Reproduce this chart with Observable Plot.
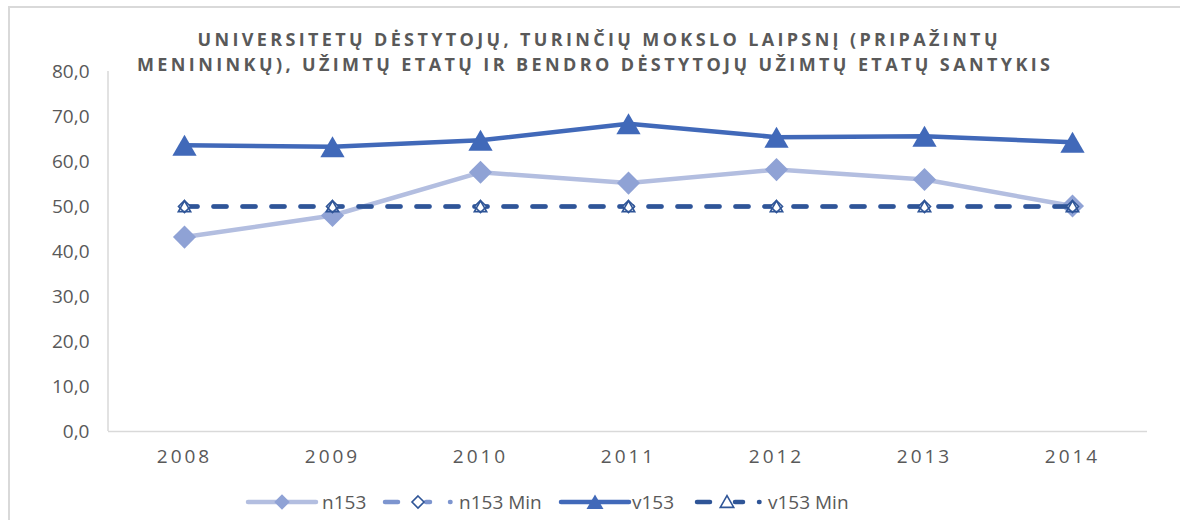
<!DOCTYPE html>
<html><head><meta charset="utf-8">
<script src="https://cdn.jsdelivr.net/npm/d3@7"></script>
<script src="https://cdn.jsdelivr.net/npm/@observablehq/plot@0.6"></script>
<style>
html,body{margin:0;padding:0;background:#fff;}
#wrap{position:relative;width:1180px;height:520px;overflow:hidden;font-family:"Open Sans",sans-serif;}
#frame{position:absolute;left:8px;top:6px;width:1200px;height:600px;border-left:2px solid #d9d9d9;border-top:2px solid #d9d9d9;}
#title{position:absolute;left:0;top:0;}
#chart{position:absolute;left:0;top:0;}
#legend{position:absolute;left:0;top:480px;}
#chart g[aria-label="x-axis tick label"] text{letter-spacing:3px}
</style></head><body>
<div id="wrap"><div id="frame"></div><div id="chart"></div><svg id="title" width="1180" height="80"></svg><svg id="legend" width="1180" height="40"></svg></div>
<script>
const years = ["2008","2009","2010","2011","2012","2013","2014"];
const n153 = [43.2, 48.0, 57.6, 55.2, 58.2, 56.0, 50.1];
const n153Min = [50, 50, 50, 50, 50, 50, 50];
const v153 = [63.6, 63.3, 64.7, 68.4, 65.4, 65.6, 64.3];
const v153Min = [50, 50, 50, 50, 50, 50, 50];
const yTicks = [0, 10, 20, 30, 40, 50, 60, 70, 80];
const titleLines = ["UNIVERSITETŲ DĖSTYTOJŲ, TURINČIŲ MOKSLO LAIPSNĮ (PRIPAŽINTŲ",
                    "MENININKŲ), UŽIMTŲ ETATŲ IR BENDRO DĖSTYTOJŲ UŽIMTŲ ETATŲ SANTYKIS"];
const seriesNames = ["n153", "n153 Min", "v153", "v153 Min"];

const C = {n153Line:"#b3bee0", n153Dot:"#8fa2d5", v153:"#4169b9", min:"#2f5597", nMin:"#7d95cf", text:"#595959", axis:"#d9d9d9"};

const rows = years.map((yr, i) => ({year: yr, n153: n153[i], n153Min: n153Min[i], v153: v153[i], v153Min: v153Min[i]}));

const leftLine = (index, scales, values, dims) => {
  const l = document.createElementNS("http://www.w3.org/2000/svg", "line");
  l.setAttribute("x1", dims.marginLeft); l.setAttribute("x2", dims.marginLeft);
  l.setAttribute("y1", scales.y(80)); l.setAttribute("y2", scales.y(0));
  l.setAttribute("stroke", C.axis); l.setAttribute("stroke-width", 1.5);
  return l;
};

const chart = Plot.plot({
  width: 1180, height: 480,
  marginTop: 71, marginBottom: 49, marginLeft: 108, marginRight: 33,
  style: {fontFamily: "'Open Sans', sans-serif", color: C.text, background: "transparent"},
  x: {type: "point", domain: years, padding: 0.5, label: null},
  y: {domain: [0, 80], label: null},
  marks: [
    Plot.axisY({ticks: yTicks, tickSize: 0, tickPadding: 19, fontSize: 19, fill: C.text, label: null,
      tickFormat: d => d.toFixed(1).replace(".", ",")}),
    Plot.axisX({tickSize: 0, tickPadding: 18, fontSize: 19, fill: C.text, label: null}),
    Plot.ruleY([0], {stroke: C.axis, strokeWidth: 1.5}),
    leftLine,
    Plot.line(rows, {x: "year", y: "n153", stroke: C.n153Line, strokeWidth: 4.5}),
    Plot.dot(rows, {x: "year", y: "n153", symbol: "diamond2", r: 10.4, fill: C.n153Dot, stroke: "none"}),
    Plot.line(rows, {x: "year", y: "v153", stroke: C.v153, strokeWidth: 4.5}),
    Plot.dot(rows, {x: "year", y: "v153", symbol: "triangle", r: 9, dy: 3.5, fill: C.v153, stroke: "none"}),
    Plot.line(rows, {x: "year", y: "n153Min", stroke: C.nMin, strokeWidth: 4.5, strokeDasharray: "13 16", strokeLinecap: "round"}),
    Plot.line(rows, {x: "year", y: "v153Min", stroke: C.min, strokeWidth: 4.5, strokeDasharray: "13 16", strokeLinecap: "round"}),
    Plot.dot(rows, {x: "year", y: "n153Min", symbol: "diamond2", r: 5.4, fill: "white", stroke: C.min, strokeWidth: 1.6}),
    Plot.dot(rows, {x: "year", y: "v153Min", symbol: "triangle", r: 4.6, dy: 1.5, fill: "none", stroke: C.min, strokeWidth: 1.6})
  ]
});
document.getElementById("chart").appendChild(chart);

// title
const t = d3.select("#title");
const tl = [[597.5, 40, 800], [593.5, 65, 913]];
titleLines.forEach((s, i) => {
  t.append("text").attr("x", tl[i][0]).attr("y", tl[i][1]).attr("dy", "0.35em")
    .attr("text-anchor", "middle").attr("textLength", tl[i][2]).attr("lengthAdjust", "spacing")
    .attr("font-family", "'Open Sans', sans-serif").attr("font-weight", 700).attr("font-size", 18)
    .attr("fill", C.text).text(s);
});

// legend
const lg = d3.select("#legend");
const cy = 22;
const sym = (type, r) => d3.symbol(type, Math.PI * r * r)();
function seg(x1, x2, color, w) {
  lg.append("line").attr("x1", x1).attr("x2", x2).attr("y1", cy).attr("y2", cy)
    .attr("stroke", color).attr("stroke-width", w).attr("stroke-linecap", "round");
}
function label(x, s) {
  lg.append("text").attr("x", x).attr("y", cy).attr("dy", "0.35em").attr("font-family", "'Open Sans', sans-serif")
    .attr("font-size", 19).attr("fill", C.text).text(s);
}
// n153
seg(248, 316, C.n153Line, 4.5);
lg.append("path").attr("d", sym(d3.symbolDiamond2, 7)).attr("transform", `translate(282,${cy})`).attr("fill", C.n153Dot);
label(322, seriesNames[0]);
// n153 Min
seg(385, 398, C.nMin, 4.5); seg(426, 430, C.nMin, 4.5); seg(450, 450.5, C.nMin, 4.5);
lg.append("path").attr("d", sym(d3.symbolDiamond2, 5.4)).attr("transform", `translate(418,${cy})`).attr("fill", "white").attr("stroke", C.min).attr("stroke-width", 1.6);
label(459, seriesNames[1]);
// v153
seg(561, 629, C.v153, 4.5);
lg.append("path").attr("d", sym(d3.symbolTriangle, 6.3)).attr("transform", `translate(595,${cy + 2.2})`).attr("fill", C.v153);
label(632, seriesNames[2]);
// v153 Min
seg(697, 710, C.min, 4.5); seg(735, 743, C.min, 4.5); seg(759, 759.5, C.min, 4.5);
lg.append("path").attr("d", sym(d3.symbolTriangle, 5)).attr("transform", `translate(727,${cy + 1.5})`).attr("fill", "white").attr("stroke", C.min).attr("stroke-width", 1.6);
label(768, seriesNames[3]);
</script>
</body></html>
